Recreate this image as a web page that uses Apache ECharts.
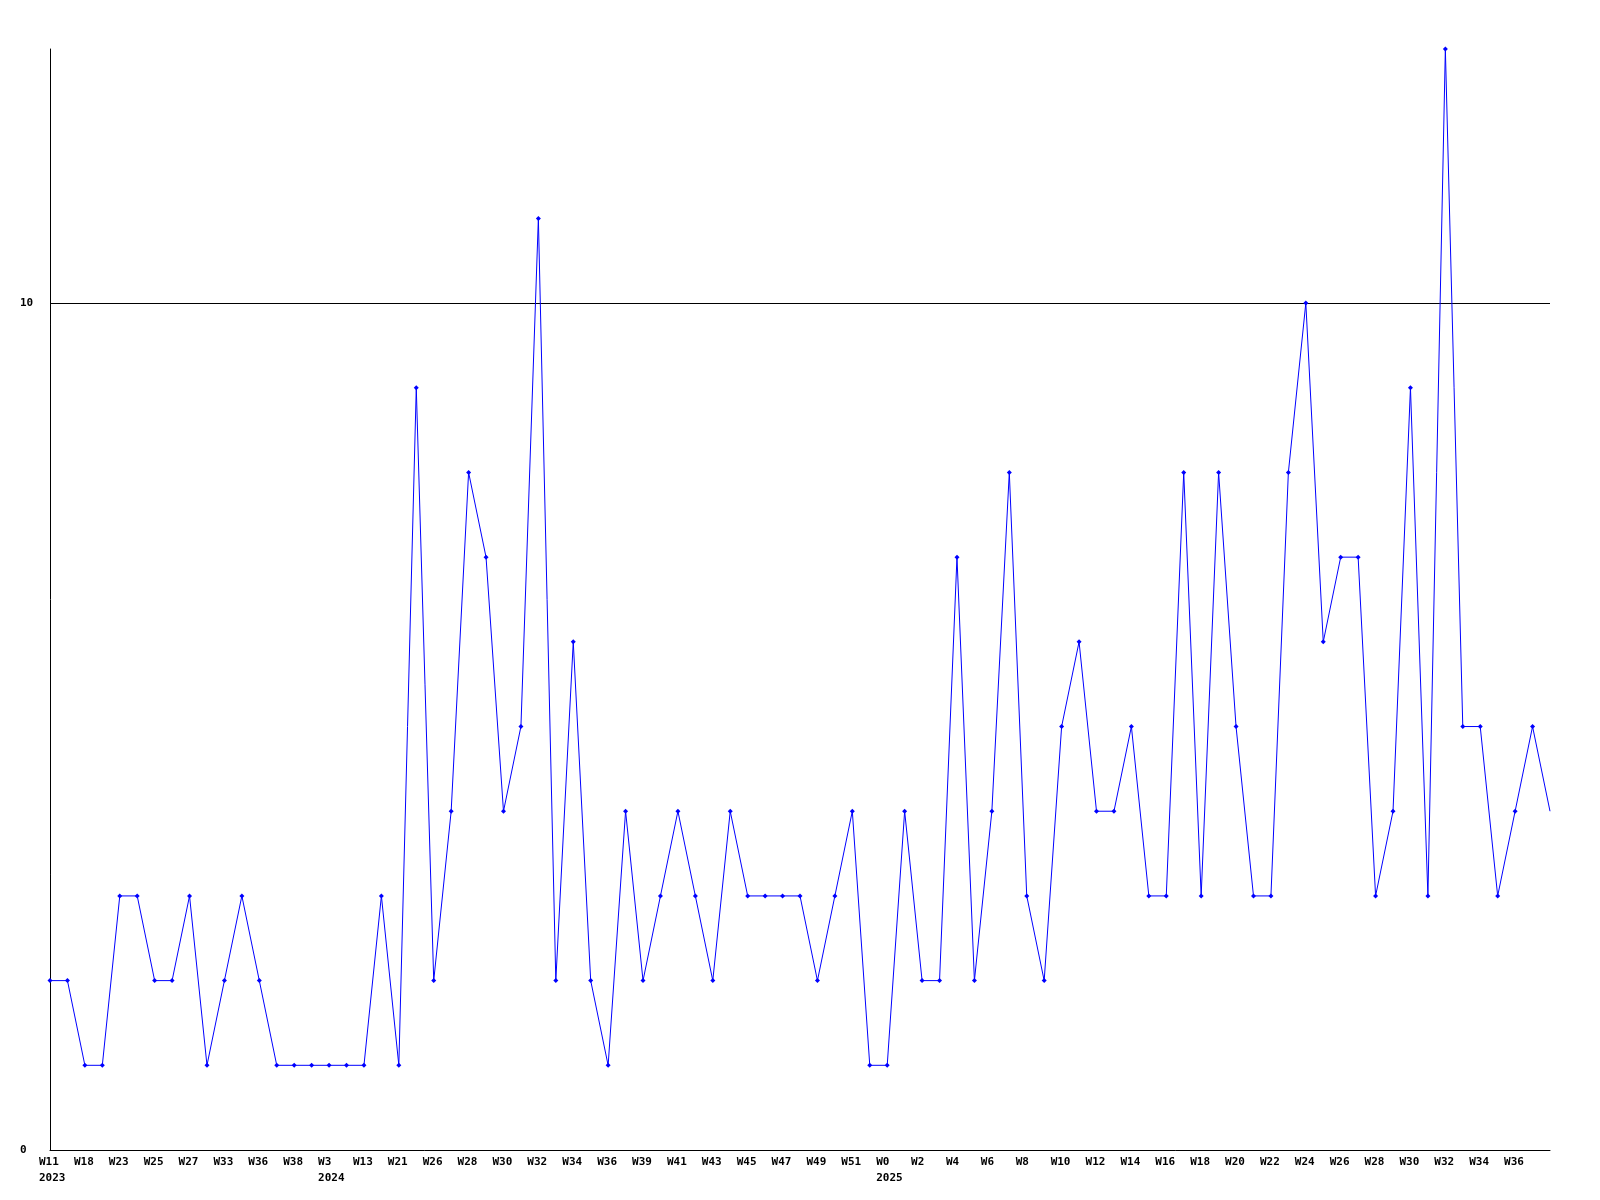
<!DOCTYPE html>
<html>
<head>
<meta charset="utf-8">
<style>
html,body{margin:0;padding:0;background:#fff;}
#chart{width:1600px;height:1200px;}
</style>
<script src="https://cdn.jsdelivr.net/npm/echarts@6/dist/echarts.min.js"></script>
</head>
<body>
<div id="chart"></div>
<script>
// Week categories (odd-position names are estimated; only every other label is shown)
const categories = [
  "W11\n2023","W14","W18","W20","W23","W24","W25","W26","W27","W30",
  "W33","W35","W36","W37","W38","W45","W3\n2024","W8","W13","W17",
  "W21","W24","W26","W27","W28","W29","W30","W31","W32","W33",
  "W34","W35","W36","W37","W39","W40","W41","W42","W43","W44",
  "W45","W46","W47","W48","W49","W50","W51","W52","W0\n2025","W1",
  "W2","W3","W4","W5","W6","W7","W8","W9","W10","W11",
  "W12","W13","W14","W15","W16","W17","W18","W19","W20","W21",
  "W22","W23","W24","W25","W26","W27","W28","W29","W30","W31",
  "W32","W33","W34","W35","W36","W37","W38"
];
const values = [
  2,2,1,1,3,3,2,2,3,1,
  2,3,2,1,1,1,1,1,1,3,
  1,9,2,4,8,7,4,5,11,2,
  6,2,1,4,2,3,4,3,2,4,
  3,3,3,3,2,3,4,1,1,4,
  2,2,7,2,4,8,3,2,5,6,
  4,4,5,3,3,8,3,8,5,3,
  3,8,10,6,7,7,3,4,9,3,
  13,5,5,3,4,5,4
];
const yTicks = { min: 0, max: 13, interval: 10 };

const chart = echarts.init(document.getElementById('chart'));
const font = '"DejaVu Sans Mono", monospace';
chart.setOption({
  animation: false,
  backgroundColor: '#ffffff',
  grid: { left: 50, right: 50, top: 49, bottom: 50, containLabel: false },
  xAxis: {
    type: 'category',
    data: categories,
    boundaryGap: false,
    axisLine: { show: true, lineStyle: { color: '#000', width: 1 } },
    axisTick: { show: false },
    splitLine: { show: false },
    axisLabel: {
      interval: function (index) { return index % 2 === 0 && index < categories.length - 1; },
      color: '#000',
      fontFamily: font,
      fontWeight: 'bold',
      fontSize: 11,
      lineHeight: 16,
      margin: 4,
      align: 'left',
      padding: [0, 0, 0, -11]
    }
  },
  yAxis: {
    type: 'value',
    min: yTicks.min,
    max: yTicks.max,
    interval: yTicks.interval,
    axisLine: { show: true, lineStyle: { color: '#000', width: 1 } },
    axisTick: { show: false },
    splitLine: { show: true, showMinLine: false, showMaxLine: false, lineStyle: { color: '#000', width: 1, type: 'solid' } },
    axisLabel: {
      showMaxLabel: false,
      color: '#000',
      fontFamily: font,
      fontWeight: 'bold',
      fontSize: 11,
      align: 'left',
      margin: 30
    }
  },
  series: [{
    type: 'line',
    data: values.map(function (v, i) {
      return i === values.length - 1 ? { value: v, symbol: 'none' } : v;
    }),
    symbol: 'diamond',
    symbolSize: 5,
    showAllSymbol: true,
    lineStyle: { color: '#0000ff', width: 1 },
    itemStyle: { color: '#0000ff' },
    emphasis: { disabled: true }
  }]
});
</script>
</body>
</html>
